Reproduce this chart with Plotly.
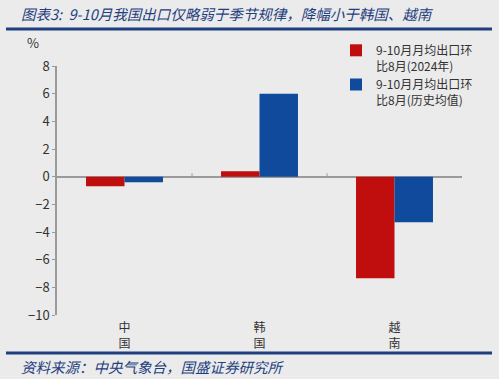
import plotly.graph_objects as go

categories = ["中<br>国", "韩<br>国", "越<br>南"]
series_2024 = [-0.7, 0.4, -7.35]
series_hist = [-0.4, 6.0, -3.3]
name_2024 = "9-10月月均出口环<br>比8月(2024年)"
name_hist = "9-10月月均出口环<br>比8月(历史均值)"
y_ticks = [8, 6, 4, 2, 0, -2, -4, -6, -8, -10]

title = "图表3:  9-10月我国出口仅略弱于季节规律，降幅小于韩国、越南"
source = "资料来源：中央气象台，国盛证券研究所"

RED = "#C00D0D"
BLUE = "#0F4A9C"
DARK = "#1F3F7F"
BG = "#EBEBEB"
CJK = "Noto Sans CJK SC"

# layout geometry (pixels)
W, H = 499, 379
L, R, T, B = 57, 37, 40, 64
PW, PH = W - L - R, H - T - B
AX_TOP = 66  # pixel where y axis ends


def px(xp):
    return (xp - L) / PW


def py(yp):
    return (H - B - yp) / PH


fig = go.Figure()
fig.add_bar(x=[0, 1, 2], y=series_2024, name=name_2024, marker_color=RED, marker_line_width=0)
fig.add_bar(x=[0, 1, 2], y=series_hist, name=name_hist, marker_color=BLUE, marker_line_width=0)

fig.update_layout(
    width=W, height=H,
    margin=dict(l=L, r=R, t=T, b=B, autoexpand=False),
    paper_bgcolor=BG, plot_bgcolor=BG,
    barmode="group", bargap=0.43, bargroupgap=0,
    font=dict(family=CJK, size=12, color="#333333"),
    showlegend=True,
    legend=dict(x=px(336), y=py(36), xanchor="left", yanchor="top",
                bgcolor="rgba(0,0,0,0)", font=dict(size=12, color="#333333"),
                valign="top", tracegroupgap=15, itemwidth=30),
    xaxis=dict(tickmode="array", tickvals=[0, 1, 2], ticktext=categories,
               range=[-0.5, 2.5], showgrid=False, zeroline=False, showline=False,
               ticks="", tickfont=dict(size=12, color="#333333"), automargin=False,
               ticklabelstandoff=4),
    yaxis=dict(range=[-10, 8], tickvals=y_ticks, showgrid=False,
               domain=[0, (H - B - AX_TOP) / PH],
               zeroline=True, zerolinecolor="#9A9A9A", zerolinewidth=1.5,
               showline=True, linecolor="#9A9A9A", linewidth=1.5,
               ticks="outside", ticklen=3, tickcolor="#9A9A9A",
               tickfont=dict(size=13, color="#333333"), automargin=False),
)

# category separator ticks on the zero line
for xv in [0.5, 1.5]:
    fig.add_shape(type="line", xref="x", yref="y", x0=xv, x1=xv, y0=0, y1=0.25,
                  line=dict(color="#9A9A9A", width=1))

# header and footer rules
fig.add_shape(type="line", xref="paper", yref="paper", x0=px(6), x1=px(492),
              y0=py(29), y1=py(29), line=dict(color=DARK, width=3))
fig.add_shape(type="line", xref="paper", yref="paper", x0=px(6), x1=px(492),
              y0=py(353), y1=py(353), line=dict(color=DARK, width=3))

fig.add_annotation(text="<i>" + title + "</i>", xref="paper", yref="paper",
                   x=px(19), y=py(13), xanchor="left", yanchor="middle",
                   showarrow=False, font=dict(family=CJK, size=14.5, color=DARK))
fig.add_annotation(text="<i>" + source + "</i>", xref="paper", yref="paper",
                   x=px(19), y=py(366), xanchor="left", yanchor="middle",
                   showarrow=False, font=dict(family=CJK, size=14.5, color=DARK))
fig.add_annotation(text="%", xref="paper", yref="paper",
                   x=px(33), y=py(43), xanchor="center", yanchor="middle",
                   showarrow=False, font=dict(size=13, color="#333333"))

fig.write_html("out.html", config={"displayModeBar": False},
               post_script="document.body.style.margin='0px';document.body.style.background='#EBEBEB';")
